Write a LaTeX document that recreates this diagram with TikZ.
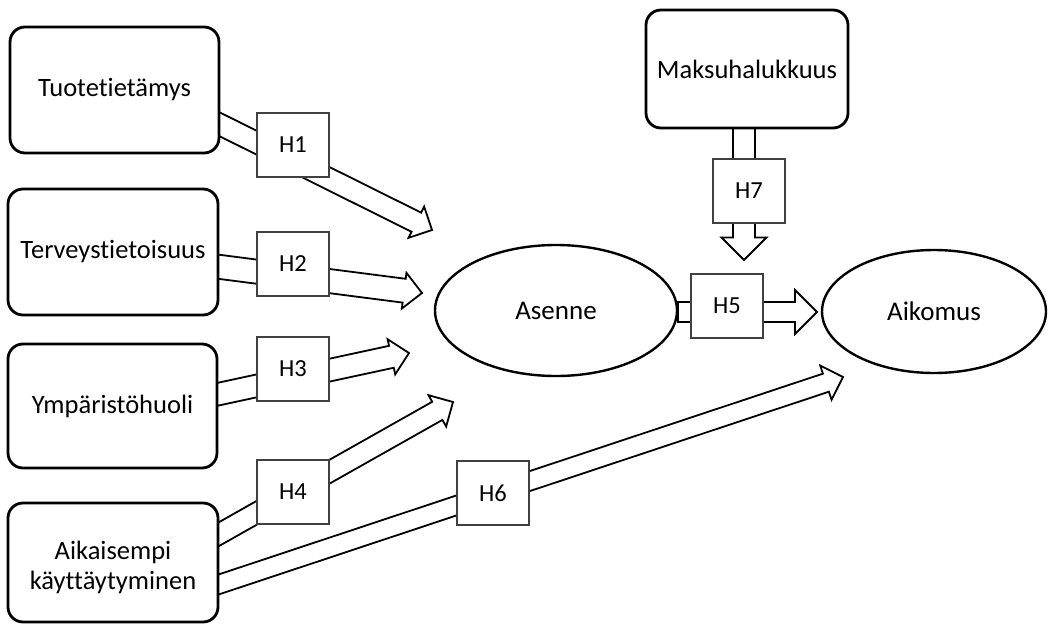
\documentclass[tikz,border=0pt]{standalone}
\usepackage{fontspec}
\setmainfont{Carlito}[Ligatures=NoCommon]
\usetikzlibrary{calc,backgrounds,shapes.geometric}

\tikzset{
  concept/.style={draw, line width=2.8pt, rounded corners=15pt, fill=white,
    align=center, inner sep=0pt, font=\fontsize{26.5}{31}\selectfont},
  construct/.style={draw, ellipse, line width=2.4pt, fill=white, inner sep=0pt,
    font=\fontsize{27}{32}\selectfont},
  hyp/.style={draw=black!75, line width=1.4pt, fill=white, minimum width=72pt,
    minimum height=64pt, inner sep=0pt, font=\fontsize{24.5}{29}\selectfont},
  arrowline/.style={draw, line width=1.8pt, line join=miter},
}

% Block arrow from #2 (tail) to #3 (tip); #4 = half shaft width,
% #5 = head length and half head width; #1 = optional path ending
\newcommand\blockarrow[5][]{%
  \coordinate (ba-base) at ($(#3)!#5!(#2)$);
  \draw[arrowline]
    ($(#2)!#4!90:(#3)$) -- ($(ba-base)!#4!-90:(#2)$) -- ($(ba-base)!#5!-90:(#2)$)
    -- (#3) -- ($(ba-base)!#5!90:(#2)$) -- ($(ba-base)!#4!90:(#2)$)
    -- ($(#2)!#4!-90:(#3)$) #1;
}

\begin{document}
\begin{tikzpicture}[x=1pt,y=-1pt]
\useasboundingbox (0,0) rectangle (1050,624);

% source constructs
\node[concept, minimum width=209pt, minimum height=126pt] (tuote) at (114.5,90) {Tuotetietämys};
\node[concept, minimum width=210pt, minimum height=126pt] (terveys) at (113,252) {Terveystietoisuus};
\node[concept, minimum width=209pt, minimum height=124pt] (ymparisto) at (112.5,406) {Ympäristöhuoli};
\node[concept, minimum width=210pt, minimum height=119pt] (aiempi) at (113,562.5) {};
\node[font=\fontsize{26.5}{30}\selectfont, align=center] (aiempitxt) at (113,567) {Aikaisempi\\käyttäytyminen};
\node[concept, minimum width=202pt, minimum height=118pt] (maksu) at (747,69) {Maksuhalukkuus};

% attitude and intention
\node[construct, minimum width=242pt, minimum height=131pt] (asenne) at (556,310.5) {Asenne};
\node[construct, minimum width=224pt, minimum height=123pt] (aikomus) at (934,311.5) {Aikomus};

% arrow tails and tips
\coordinate (s1) at (205,117);  \coordinate (t1) at (432,230);
\coordinate (s2) at (205,265);  \coordinate (t2) at (422,293);
\coordinate (s3) at (205,397);  \coordinate (t3) at (409,353);
\coordinate (s4) at (205,542);  \coordinate (t4) at (453,402);
\coordinate (s6) at (205,589);  \coordinate (t6) at (843,377);
\coordinate (s7) at (744,115);  \coordinate (t7) at (744,260);
\coordinate (s5) at (678,312);  \coordinate (t5) at (817,312);

\begin{pgfonlayer}{background}
  \blockarrow{s1}{t1}{10.7pt}{17.5pt}
  \blockarrow{s2}{t2}{12pt}{18pt}
  \blockarrow{s3}{t3}{11.2pt}{18pt}
  \blockarrow{s4}{t4}{10.4pt}{18pt}
  \blockarrow{s6}{t6}{9.5pt}{18pt}
  \blockarrow{s7}{t7}{11pt}{22.5pt}
  \blockarrow[-- cycle]{s5}{t5}{10pt}{22pt}
\end{pgfonlayer}

% hypothesis labels
\node[hyp] (h1) at (293,145) {H1};
\node[hyp] (h2) at (293,264) {H2};
\node[hyp] (h3) at (293,369) {H3};
\node[hyp] (h4) at (293,492) {H4};
\node[hyp] (h6) at (493,493) {H6};
\node[hyp] (h7) at (749,191) {H7};
\node[hyp] (h5) at (727,306) {H5};
\end{tikzpicture}
\end{document}
